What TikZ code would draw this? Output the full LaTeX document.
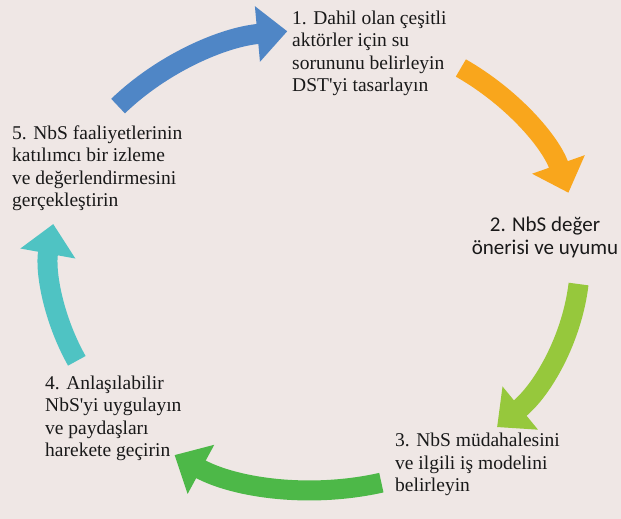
\documentclass[tikz,border=0pt]{standalone}
\usepackage{fontspec}
\setmainfont{Liberation Serif}
\newfontfamily\stepsans{Carlito}
\usepackage{xcolor}
\usetikzlibrary{arrows.meta,calc}

\definecolor{bgpink}{HTML}{EFE7E5}
\definecolor{cycblue}{HTML}{4F86C6}
\definecolor{cycorange}{HTML}{F9A61C}
\definecolor{cyclime}{HTML}{96C83C}
\definecolor{cycgreen}{HTML}{4DB848}
\definecolor{cycteal}{HTML}{4FC3C3}

\begin{document}
\begin{tikzpicture}[
x=1pt, y=1pt,
stage/.style={align=left, anchor=base west, inner sep=0pt, text=black!90,
  font=\fontsize{19.5}{22.5}\selectfont},
cyc/.style={line width=20pt, -{Triangle[length=30pt, width=54pt]}},
ell/.style={x radius=265pt, y radius=230pt}
]
\useasboundingbox[fill=bgpink] (0,0) rectangle (621,519);
\clip (0,0) rectangle (621,519);

\coordinate (c) at (315,259);

% the five steps (placed by the baseline of their last line)
\node[stage] (s1) at (292,427) {1. Dahil olan çeşitli\\aktörler için su\\sorununu belirleyin\\DST\textquotesingle yi tasarlayın};
\node[stage, anchor=base, align=center, font=\stepsans\fontsize{21}{23}\selectfont] (s2) at (545,264) {2. NbS değer\\önerisi ve uyumu};
\node[stage] (s3) at (395,27) {3. NbS müdahalesini\\ve ilgili iş modelini\\belirleyin};
\node[stage] (s4) at (45,62) {4. Anlaşılabilir\\NbS\textquotesingle yi uygulayın\\ve paydaşları\\harekete geçirin};
\node[stage] (s5) at (12,312) {5. NbS faaliyetlerinin\\katılımcı bir izleme\\ve değerlendirmesini\\gerçekleştirin};

% arrow tails on the cycle
\coordinate (t1) at ($(c)+(138:265pt and 230pt)$);
\coordinate (t2) at ($(c)+(56.6:265pt and 230pt)$);
\coordinate (t3) at ($(c)+(-6:265pt and 230pt)$);
\coordinate (t4) at ($(c)+(-75.5:265pt and 230pt)$);
\coordinate (t5) at ($(c)+(206:265pt and 230pt)$);

\draw[cyc, cycblue] (t1) arc[ell, start angle=138, end angle=96];
\draw[cyc, cycorange] (t2) arc[ell, start angle=56.6, end angle=17];
\draw[cyc, cyclime] (t3) arc[ell, start angle=-6, end angle=-46.6];
\draw[cyc, cycgreen] (t4) arc[ell, start angle=-75.5, end angle=-122];
\draw[cyc, cycteal] (t5) arc[ell, start angle=206, end angle=171];
\end{tikzpicture}
\end{document}
